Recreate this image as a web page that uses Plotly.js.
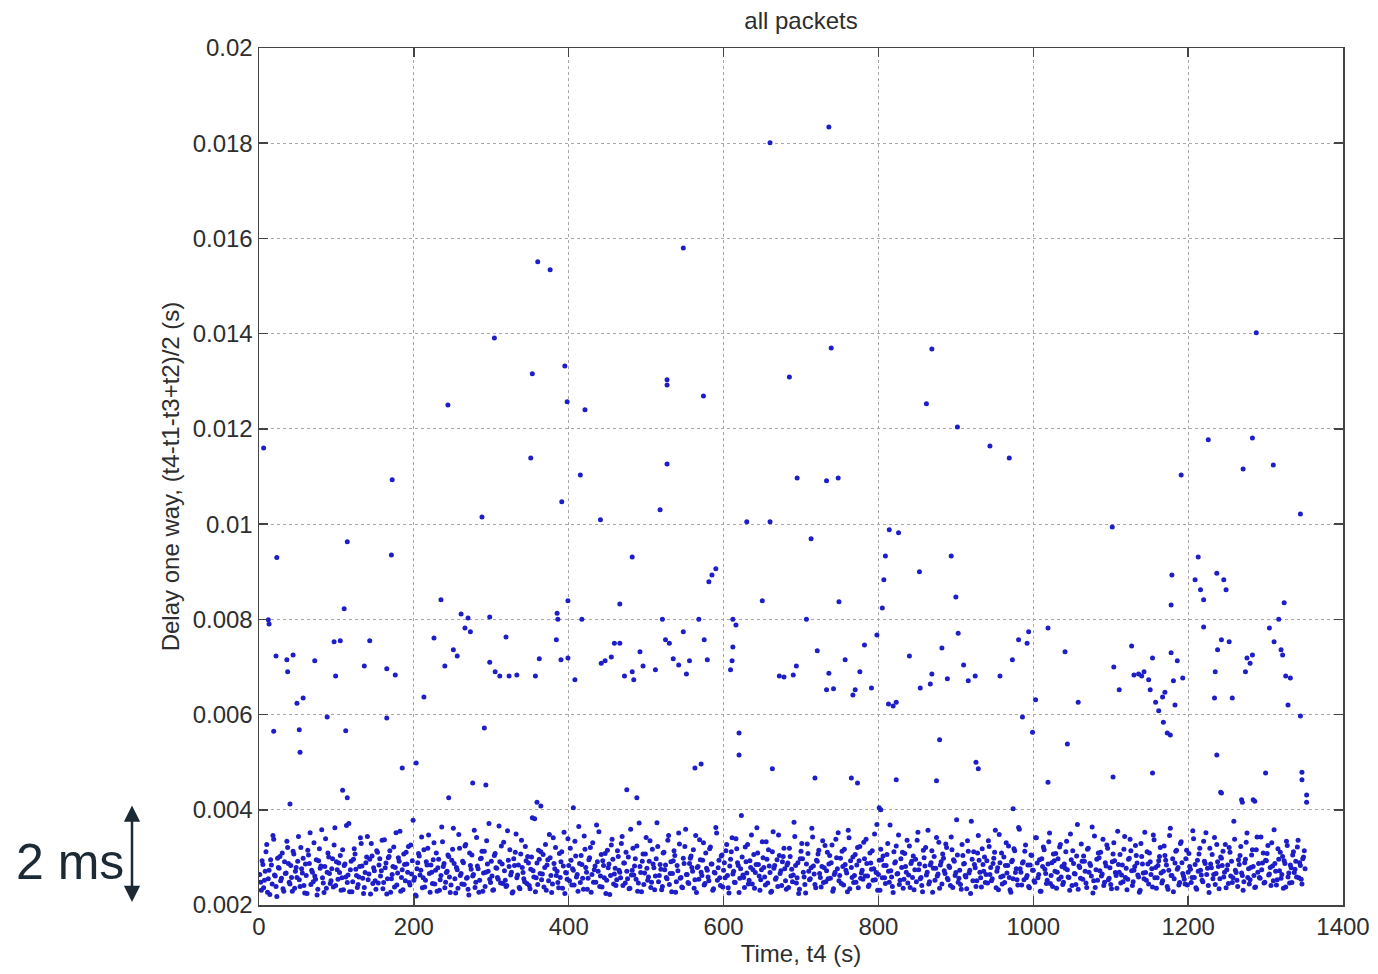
<!DOCTYPE html>
<html>
<head>
<meta charset="utf-8">
<script src="https://cdn.plot.ly/plotly-3.0.1.min.js"></script>
<style>html,body{margin:0;padding:0;background:#fff;}#chart{width:1378px;height:974px;}</style>
</head>
<body>
<div id="chart"></div>
<script>
// Tick labels
const xTickVals = [0, 200, 400, 600, 800, 1000, 1200, 1400];
const xTickText = ["0", "200", "400", "600", "800", "1000", "1200", "1400"];
const yTickVals = [0.002, 0.004, 0.006, 0.008, 0.010, 0.012, 0.014, 0.016, 0.018, 0.020];
const yTickText = ["0.002", "0.004", "0.006", "0.008", "0.01", "0.012", "0.014", "0.016", "0.018", "0.02"];

// Dense band of packets, odd seconds (time in s, delay in ms)
const bandTime = [
1,3,5,7,9,11,13,15,17,19,21,23,25,27,29,31,33,35,37,39,41,43,45,47,49,51,
53,55,57,59,61,63,65,67,69,71,73,75,77,79,81,83,85,87,89,91,93,95,97,99,101,103,
105,107,109,111,113,115,117,119,121,123,125,127,129,131,133,135,137,139,141,143,145,147,149,151,153,155,
157,159,161,163,165,167,169,171,173,175,177,179,181,183,185,187,189,191,193,195,197,199,201,203,205,207,
209,211,213,215,217,219,221,223,225,227,229,231,233,235,237,239,241,243,245,247,249,251,253,255,257,259,
261,263,265,267,269,271,273,275,277,279,281,283,285,287,289,291,293,295,297,299,301,303,305,307,309,311,
313,315,317,319,321,323,325,327,329,331,333,335,337,339,341,343,345,347,349,351,353,355,357,359,361,363,
365,367,369,371,373,375,377,379,381,383,385,387,389,391,393,395,397,399,401,403,405,407,409,411,413,415,
417,419,421,423,425,427,429,431,433,435,437,439,441,443,445,447,449,451,453,455,457,459,461,463,465,467,
469,471,473,475,477,479,481,483,485,487,489,491,493,495,497,499,501,503,505,507,509,511,513,515,517,519,
521,523,525,527,529,531,533,535,537,539,541,543,545,547,549,551,553,555,557,559,561,563,565,567,569,571,
573,575,577,579,581,583,585,587,589,591,593,595,597,599,601,603,605,607,609,611,613,615,617,619,621,623,
625,627,629,631,633,635,637,639,641,643,645,647,649,651,653,655,657,659,661,663,665,667,669,671,673,675,
677,679,681,683,685,687,689,691,693,695,697,699,701,703,705,707,709,711,713,715,717,719,721,723,725,727,
729,731,733,735,737,739,741,743,745,747,749,751,753,755,757,759,761,763,765,767,769,771,773,775,777,779,
781,783,785,787,789,791,793,795,797,799,801,803,805,807,809,811,813,815,817,819,821,823,825,827,829,831,
833,835,837,839,841,843,845,847,849,851,853,855,857,859,861,863,865,867,869,871,873,875,877,879,881,883,
885,887,889,891,893,895,897,899,901,903,905,907,909,911,913,915,917,919,921,923,925,927,929,931,933,935,
937,939,941,943,945,947,949,951,953,955,957,959,961,963,965,967,969,971,973,975,977,979,981,983,985,987,
989,991,993,995,997,999,1001,1003,1005,1007,1009,1011,1013,1015,1017,1019,1021,1023,1025,1027,1029,1031,1033,1035,1037,1039,
1041,1043,1045,1047,1049,1051,1053,1055,1057,1059,1061,1063,1065,1067,1069,1071,1073,1075,1077,1079,1081,1083,1085,1087,1089,1091,
1093,1095,1097,1099,1101,1103,1105,1107,1109,1111,1113,1115,1117,1119,1121,1123,1125,1127,1129,1131,1133,1135,1137,1139,1141,1143,
1145,1147,1149,1151,1153,1155,1157,1159,1161,1163,1165,1167,1169,1171,1173,1175,1177,1179,1181,1183,1185,1187,1189,1191,1193,1195,
1197,1199,1201,1203,1205,1207,1209,1211,1213,1215,1217,1219,1221,1223,1225,1227,1229,1231,1233,1235,1237,1239,1241,1243,1245,1247,
1249,1251,1253,1255,1257,1259,1261,1263,1265,1267,1269,1271,1273,1275,1277,1279,1281,1283,1285,1287,1289,1291,1293,1295,1297,1299,
1301,1303,1305,1307,1309,1311,1313,1315,1317,1319,1321,1323,1325,1327,1329,1331,1333,1335,1337,1339,1341,1343,1345,1347,1349,1351
];
const bandDelayMs = [
2.64,2.31,2.85,2.52,3.12,2.27,2.73,2.95,2.44,3.38,2.61,2.18,2.79,3.02,2.56,2.34,2.91,2.67,3.21,2.48,2.83,2.29,3.07,2.71,2.58,3.44,
2.39,2.76,2.98,2.25,2.62,3.15,2.87,2.43,2.69,3.31,2.54,2.21,2.93,2.77,3.58,2.46,2.81,2.35,3.09,2.66,2.51,2.97,3.26,2.41,2.74,2.88,
3.04,2.57,2.32,2.86,3.67,2.63,2.28,2.92,2.49,3.18,2.75,2.37,2.59,3.41,2.82,2.24,2.68,3.01,2.53,2.96,3.29,2.45,2.72,2.33,3.11,2.84,
2.61,3.36,2.47,2.78,2.23,2.99,3.14,2.55,2.81,2.38,3.52,2.67,2.92,2.29,2.74,3.07,2.51,2.86,3.23,2.42,2.65,3.78,2.58,2.19,2.89,3.03,
2.73,2.36,3.16,2.52,2.84,3.47,2.27,2.69,2.95,2.44,3.09,2.78,2.31,2.62,3.33,2.87,2.48,2.71,3.02,2.26,2.94,3.61,2.55,2.79,2.35,3.19,
2.66,2.92,2.43,3.27,2.58,2.21,2.83,3.05,2.64,2.37,3.42,2.76,2.52,2.98,2.29,3.13,2.69,2.86,3.71,2.47,2.61,2.32,3.08,2.77,2.54,2.91,
3.24,2.45,2.72,2.39,3.56,2.81,2.63,2.25,2.97,3.11,2.57,2.84,2.34,3.36,2.68,2.49,2.93,3.02,2.41,2.75,3.83,2.59,2.28,2.88,3.15,2.66,
2.53,3.06,2.79,2.31,2.95,3.48,2.62,2.44,2.87,3.21,2.71,2.36,2.58,3.12,2.82,2.24,2.67,3.39,2.51,2.94,2.76,2.42,3.03,2.64,3.65,2.47,
2.85,2.33,3.17,2.69,2.56,2.99,2.27,3.31,2.74,2.48,2.91,3.54,2.61,2.38,2.83,3.08,2.52,2.78,2.22,3.26,2.96,2.65,2.41,3.14,2.73,2.57,
3.44,2.88,2.46,2.71,3.01,2.35,2.63,3.19,2.82,2.54,2.29,3.72,2.68,2.92,2.43,3.07,2.77,2.59,3.35,2.48,2.86,2.32,2.97,3.23,2.62,2.75,
2.39,3.11,2.84,2.55,3.46,2.66,2.28,2.93,3.04,2.49,2.72,3.28,2.58,2.36,2.87,3.59,2.64,2.45,2.98,2.79,3.16,2.53,2.26,2.81,3.37,2.69,
2.94,2.42,3.09,2.73,2.51,3.22,2.86,2.34,2.67,3.51,2.78,2.57,3.03,2.38,2.89,3.14,2.62,2.25,2.96,3.41,2.71,2.47,3.18,2.83,2.56,3.88,
2.63,2.37,2.91,3.27,2.52,2.79,2.44,3.06,2.68,3.62,2.85,2.31,2.74,2.99,2.59,3.33,2.46,2.82,2.27,3.12,2.77,2.54,2.95,3.47,2.66,2.41,
3.02,2.76,2.33,2.88,3.19,2.61,2.49,3.74,2.83,2.57,2.24,2.97,3.29,2.69,2.43,2.86,3.08,2.53,2.78,3.43,2.65,2.36,2.92,3.15,2.58,2.81,
2.47,3.25,2.72,2.55,3.04,2.89,2.29,2.64,3.38,2.76,2.51,2.98,3.13,2.42,2.85,2.67,3.57,2.34,2.79,3.01,2.62,2.48,3.21,2.93,2.56,2.73,
3.32,2.61,2.87,2.39,3.09,2.75,2.52,3.49,2.68,2.31,2.94,3.17,2.57,2.83,2.45,3.06,2.71,3.68,2.59,2.26,2.88,3.24,2.66,2.43,2.97,3.11,
2.54,2.81,3.36,2.63,2.37,2.92,3.03,2.74,2.49,3.53,2.86,2.58,2.28,2.99,3.21,2.69,2.44,2.84,3.14,2.77,2.52,3.42,2.65,2.35,2.91,3.07,
2.72,3.28,2.56,2.82,2.41,3.16,2.95,2.62,3.79,2.48,2.73,2.33,3.04,2.87,2.59,3.35,2.67,2.24,2.96,3.12,2.78,2.51,3.46,2.69,2.38,2.85,
3.01,2.64,2.46,3.23,2.79,2.55,2.98,3.57,2.71,2.32,2.89,3.09,2.61,2.47,3.31,2.83,2.58,2.27,2.94,3.18,2.68,2.53,3.63,2.76,2.42,2.91,
3.13,2.57,2.84,2.36,3.05,2.73,2.51,3.41,2.88,2.64,2.29,2.97,3.22,2.75,2.45,2.86,3.51,2.62,2.39,2.93,3.08,2.69,2.54,3.27,2.81,2.48,
2.77,3.34,2.59,2.31,2.95,3.14,2.66,2.43,3.69,2.82,2.56,2.92,3.03,2.71,2.37,3.19,2.87,2.61,2.25,3.45,2.74,2.52,2.99,3.11,2.65,2.41,
2.89,3.26,2.53,2.78,2.34,3.07,2.93,2.62,3.55,2.69,2.46,2.84,3.17,2.58,2.32,2.96,3.38,2.72,2.49,2.81,3.04,2.63,2.27,3.29,2.86,2.55,
2.68,3.12,2.44,2.91,2.76,3.47,2.57,2.35,2.83,3.02,2.67,2.51,3.24,2.94,2.39,2.73,3.61,2.62,2.28,2.88,3.15,2.79,2.47,3.33,2.66,2.54,
2.97,2.42,3.08,2.75,2.58,3.39,2.85,2.33,2.71,3.19,2.63,2.49,2.92,3.52,2.77,2.26,2.86,3.06,2.64,2.43,3.27,2.81,2.55,2.98,3.13,2.69,
2.36,2.84,3.21,2.61,2.47,3.76,2.73,2.52,2.95,3.04,2.67,2.31,2.89,3.32,2.58,2.44,2.79,3.16,2.62,2.38,3.43,2.87,2.56,2.74,3.09,2.48,
2.93,3.25,2.65,2.41,2.82,3.58,2.71,2.53,2.96,3.11,2.64,2.35,2.87,3.34,2.59,2.46,2.78,3.05,2.68,2.92,3.22,2.57,2.83,2.44,3.01,2.76
];

// Dense band of packets, even seconds (time in s, delay in ms)
const bandTimeB = [
2,4,6,8,10,12,14,16,18,20,22,24,26,28,30,32,34,36,38,40,42,44,46,48,50,52,
54,56,58,60,62,64,66,68,70,72,74,76,78,80,82,84,86,88,90,92,94,96,98,100,102,104,
106,108,110,112,114,116,118,120,122,124,126,128,130,132,134,136,138,140,142,144,146,148,150,152,154,156,
158,160,162,164,166,168,170,172,174,176,178,180,182,184,186,188,190,192,194,196,198,200,202,204,206,208,
210,212,214,216,218,220,222,224,226,228,230,232,234,236,238,240,242,244,246,248,250,252,254,256,258,260,
262,264,266,268,270,272,274,276,278,280,282,284,286,288,290,292,294,296,298,300,302,304,306,308,310,312,
314,316,318,320,322,324,326,328,330,332,334,336,338,340,342,344,346,348,350,352,354,356,358,360,362,364,
366,368,370,372,374,376,378,380,382,384,386,388,390,392,394,396,398,400,402,404,406,408,410,412,414,416,
418,420,422,424,426,428,430,432,434,436,438,440,442,444,446,448,450,452,454,456,458,460,462,464,466,468,
470,472,474,476,478,480,482,484,486,488,490,492,494,496,498,500,502,504,506,508,510,512,514,516,518,520,
522,524,526,528,530,532,534,536,538,540,542,544,546,548,550,552,554,556,558,560,562,564,566,568,570,572,
574,576,578,580,582,584,586,588,590,592,594,596,598,600,602,604,606,608,610,612,614,616,618,620,622,624,
626,628,630,632,634,636,638,640,642,644,646,648,650,652,654,656,658,660,662,664,666,668,670,672,674,676,
678,680,682,684,686,688,690,692,694,696,698,700,702,704,706,708,710,712,714,716,718,720,722,724,726,728,
730,732,734,736,738,740,742,744,746,748,750,752,754,756,758,760,762,764,766,768,770,772,774,776,778,780,
782,784,786,788,790,792,794,796,798,800,802,804,806,808,810,812,814,816,818,820,822,824,826,828,830,832,
834,836,838,840,842,844,846,848,850,852,854,856,858,860,862,864,866,868,870,872,874,876,878,880,882,884,
886,888,890,892,894,896,898,900,902,904,906,908,910,912,914,916,918,920,922,924,926,928,930,932,934,936,
938,940,942,944,946,948,950,952,954,956,958,960,962,964,966,968,970,972,974,976,978,980,982,984,986,988,
990,992,994,996,998,1000,1002,1004,1006,1008,1010,1012,1014,1016,1018,1020,1022,1024,1026,1028,1030,1032,1034,1036,1038,1040,
1042,1044,1046,1048,1050,1052,1054,1056,1058,1060,1062,1064,1066,1068,1070,1072,1074,1076,1078,1080,1082,1084,1086,1088,1090,1092,
1094,1096,1098,1100,1102,1104,1106,1108,1110,1112,1114,1116,1118,1120,1122,1124,1126,1128,1130,1132,1134,1136,1138,1140,1142,1144,
1146,1148,1150,1152,1154,1156,1158,1160,1162,1164,1166,1168,1170,1172,1174,1176,1178,1180,1182,1184,1186,1188,1190,1192,1194,1196,
1198,1200,1202,1204,1206,1208,1210,1212,1214,1216,1218,1220,1222,1224,1226,1228,1230,1232,1234,1236,1238,1240,1242,1244,1246,1248,
1250,1252,1254,1256,1258,1260,1262,1264,1266,1268,1270,1272,1274,1276,1278,1280,1282,1284,1286,1288,1290,1292,1294,1296,1298,1300,
1302,1304,1306,1308,1310,1312,1314,1316,1318,1320,1322,1324,1326,1328,1330,1332,1334,1336,1338,1340,1342,1344,1346,1348,1350
];
const bandDelayMsB = [
2.48,2.93,2.36,2.71,3.27,2.55,2.22,2.84,3.46,2.63,2.39,2.98,2.77,2.51,3.09,2.29,2.66,3.34,2.87,2.44,2.58,3.13,2.35,2.79,2.92,2.53,
3.21,2.67,2.41,2.86,2.24,3.05,3.52,2.73,2.49,2.61,2.95,2.33,3.18,2.82,2.57,2.26,3.39,2.69,3.01,2.45,2.76,2.38,3.62,2.91,2.54,2.68,
2.31,3.16,2.83,2.59,2.47,3.71,2.74,2.28,2.96,3.07,2.62,2.43,2.81,3.29,2.56,2.37,2.89,3.44,2.65,2.23,3.03,2.78,2.51,3.14,2.46,2.97,
2.72,2.34,3.37,2.88,2.55,3.02,2.27,2.64,3.22,2.79,2.42,2.99,3.55,2.58,2.32,2.85,3.11,2.69,2.47,3.26,2.93,2.52,2.21,2.76,3.08,2.63,
3.43,2.57,2.38,2.91,3.19,2.66,2.84,2.45,3.31,2.73,2.29,2.96,2.53,3.64,2.81,2.36,2.68,3.05,2.59,2.42,3.17,2.87,2.25,2.74,3.48,2.62,
2.44,2.89,3.24,2.56,2.33,3.09,2.75,2.61,3.57,2.48,2.82,2.27,2.97,3.13,2.67,2.39,3.35,2.71,2.54,2.92,2.31,3.04,2.78,2.58,3.66,2.46,
2.86,3.32,2.52,2.41,2.94,3.16,2.69,2.28,2.83,3.49,2.63,2.37,3.07,2.79,2.55,3.23,2.45,2.88,2.34,3.01,2.72,3.81,2.57,2.43,2.96,3.12,
2.65,2.38,3.27,2.84,2.51,2.99,2.26,3.41,2.76,2.62,2.47,3.08,2.91,2.35,3.53,2.68,2.54,2.83,3.19,2.42,2.73,3.34,2.59,2.29,2.87,3.04,
2.56,3.45,2.79,2.33,2.95,3.21,2.64,2.48,2.82,3.68,2.71,2.39,3.06,2.93,2.57,2.24,3.15,2.86,2.62,3.38,2.44,2.77,2.53,3.02,2.69,3.29,
2.41,2.88,3.11,2.55,2.34,3.59,2.73,2.63,2.97,3.24,2.46,2.81,2.28,3.07,2.67,3.42,2.52,2.92,2.37,3.17,2.78,2.61,3.73,2.49,2.85,2.32,
3.09,2.74,2.58,3.36,2.43,2.91,2.66,3.14,2.27,2.83,3.51,2.56,2.38,2.98,3.23,2.64,2.47,2.87,3.03,2.71,2.35,3.46,2.79,2.54,2.95,2.62,
3.31,2.45,2.77,2.59,3.18,2.86,2.31,2.69,3.63,2.52,2.94,2.41,3.05,2.73,2.57,3.27,2.36,2.82,3.12,2.65,2.48,3.39,2.89,2.26,2.76,3.01,
2.58,3.22,2.67,2.44,2.93,3.47,2.74,2.35,2.85,3.09,2.61,2.53,3.33,2.79,2.42,2.96,3.16,2.68,2.29,3.54,2.83,2.57,2.39,3.04,2.72,2.91,
3.19,2.51,2.84,2.37,3.02,2.75,2.63,3.44,2.46,2.89,2.33,3.13,2.97,2.59,2.25,3.28,2.71,2.55,3.61,2.82,2.43,2.94,3.07,2.66,2.38,3.35,
2.78,2.49,3.11,2.86,2.56,3.26,2.34,2.69,2.99,3.52,2.62,2.45,2.81,3.17,2.73,2.28,3.41,2.93,2.58,2.47,3.06,2.84,2.36,3.23,2.67,2.54,
2.97,3.38,2.61,2.42,2.88,3.14,2.76,2.53,3.69,2.64,2.31,2.95,3.03,2.57,2.83,3.29,2.48,2.72,2.39,3.12,2.91,2.65,3.47,2.52,2.79,2.35,
3.08,2.69,2.46,3.24,2.87,2.58,2.32,2.96,3.36,2.74,2.55,2.41,3.15,2.82,2.63,3.57,2.49,2.89,2.27,3.02,2.77,2.61,3.32,2.84,2.44,2.98,
2.66,3.21,2.53,2.79,3.43,2.37,2.92,2.68,3.05,2.56,2.43,3.27,2.86,2.62,2.34,3.13,2.73,3.76,2.51,2.85,2.39,3.09,2.94,2.57,3.18,2.71,
2.47,2.93,3.35,2.64,2.51,2.87,3.11,2.36,2.78,3.48,2.59,2.44,3.01,2.83,2.67,3.24,2.32,2.91,2.55,3.14,2.76,2.42,3.59,2.69,2.88,2.53,
3.26,2.62,2.39,2.84,3.04,2.73,2.48,3.41,2.57,2.95,2.29,2.81,3.16,2.66,2.52,3.33,2.45,2.89,3.07,2.71,2.35,2.97,3.22,2.59,2.43,2.86,
3.12,2.74,2.58,3.49,2.41,2.87,2.65,3.03,2.33,2.79,3.28,2.54,2.92,2.46,3.17,2.69,2.83,3.64,2.51,2.37,2.96,3.09,2.72,2.61,3.38,2.48,
2.82,3.19,2.56,2.43,2.91,3.31,2.68,2.35,2.85,3.06,2.63,2.49,3.44,2.77,2.54,2.98,3.14,2.41,2.73,3.25,2.88,2.59,2.31,3.02,2.67,3.53,
2.52,2.86,3.09,2.64,2.38,3.37,2.79,2.57,2.93,3.21,2.46,2.71,3.04,2.84,2.33,3.46,2.62,2.97,2.55,3.13,2.75,2.42,3.29,2.89,2.61,2.44,
3.15,2.69,2.81,2.47,3.56,2.58,2.36,2.94,3.07,2.73,2.52,3.34,2.87,2.64,2.41,3.19,2.78,2.55,3.42,2.66,2.91,2.34,3.01,2.83,2.59,3.27,
2.74,2.45,3.11,2.92,2.57,3.38,2.68,2.39,2.85,3.23,2.62,2.49,2.96,3.51,2.76,2.53,3.05,2.81,2.37,3.16,2.69,2.58,3.43,2.88,2.46,2.94,
3.08,2.63,2.79,3.31,2.51,2.87,2.42,3.18,2.72,2.56,3.02,2.93,2.38,3.25,2.67,2.84,2.47,3.12,2.75,2.59,3.36,2.89,2.54,2.97,3.14
];

// Delayed packets above the main band (time in s, delay in ms)
const outlierTime = [
6,12,13,23,22,19,36,44,37,40,
49,57,52,53,72,88,97,105,99,112,
108,114,110,114,136,143,165,171,172,165,
176,185,203,213,226,235,240,244,245,251,
256,261,266,270,273,276,288,291,293,298,
304,298,305,311,319,323,333,351,353,357,
362,359,364,360,376,384,385,386,390,391,
395,398,399,399,406,408,415,417,421,441,
442,447,455,459,466,466,472,475,482,482,
488,484,492,496,512,518,521,527,527,527,
525,530,535,542,548,548,552,556,568,574,
563,571,575,579,581,585,590,612,616,612,
611,609,620,620,630,650,663,660,660,672,
678,685,690,694,695,707,713,718,721,736,
739,733,733,736,748,749,742,757,765,767,
770,773,776,782,791,798,801,803,805,807,
809,814,813,819,823,823,826,840,853,854,
862,867,869,869,875,879,882,889,894,900,
902,903,910,916,925,926,929,944,957,969,
973,974,981,986,992,994,999,1003,1019,1019,
1041,1044,1058,1102,1103,1104,1111,1127,1130,1136,
1140,1143,1149,1151,1154,1154,1158,1162,1168,1173,
1177,1167,1170,1179,1178,1186,1181,1178,1183,1191,
1193,1209,1213,1216,1220,1226,1220,1234,1238,1235,
1237,1237,1242,1243,1246,1249,1253,1257,1271,1269,
1274,1276,1280,1283,1283,1284,1288,1300,1305,1310,
1311,1317,1320,1322,1324,1326,1329,1332,1345,1345,
1347,1353,1353,1347,1243,1270,1286
];
const outlierDelayMs = [
11.6,7.99,7.9,9.3,7.23,5.65,7.15,7.25,6.9,4.12,
6.24,6.35,5.68,5.21,7.13,5.95,7.53,7.55,6.81,5.66,
4.41,4.25,8.22,9.63,7.02,7.55,6.96,9.35,10.93,5.93,
6.83,4.88,4.98,6.37,7.61,8.41,7.02,12.5,4.25,7.36,
7.23,8.11,7.82,8.03,7.74,4.56,10.15,5.72,4.52,8.05,
13.91,7.1,6.9,6.81,7.63,6.81,6.83,11.39,13.16,6.81,
7.17,4.16,4.08,15.51,15.34,7.57,8.13,8.0,7.15,10.47,
13.32,12.57,8.39,7.19,4.04,6.73,11.03,8.0,12.4,10.09,
7.08,7.13,7.21,7.5,8.32,7.5,6.81,4.42,9.31,6.9,
4.25,6.73,7.32,7.02,6.94,10.3,8.0,12.92,13.03,11.26,
7.57,7.5,7.17,7.04,15.8,7.74,6.85,7.13,8.0,12.69,
4.88,4.96,7.57,7.15,8.79,8.93,9.06,8.0,7.88,7.42,
7.13,6.94,5.61,5.15,10.05,8.39,4.86,18.01,10.05,6.81,
6.79,13.09,6.83,7.02,10.97,8.0,9.69,4.67,7.34,18.34,
13.7,10.91,6.52,6.87,10.97,8.37,6.54,7.15,4.67,6.41,
6.52,4.56,6.9,7.46,6.56,7.67,4.04,4.0,8.24,8.83,
9.33,9.88,6.22,6.18,6.26,4.63,9.82,7.23,9.0,6.56,
12.53,6.64,13.68,6.85,4.61,5.47,7.4,6.75,9.33,8.47,
12.04,7.71,7.04,6.71,6.81,5.0,4.86,11.64,6.81,11.39,
7.15,4.02,7.57,5.95,7.5,7.74,5.63,6.31,4.58,7.82,
7.32,5.38,6.26,9.94,4.69,7.0,6.52,7.44,6.83,6.85,
6.81,6.9,6.73,6.52,7.19,4.77,6.26,6.08,5.84,5.61,
5.57,6.37,6.47,8.93,8.3,7.13,6.71,7.3,6.2,11.03,
6.77,8.83,9.31,8.62,8.41,11.77,7.84,6.35,7.36,6.9,
5.15,8.97,4.37,7.57,8.83,8.62,7.53,6.35,11.16,4.21,
6.9,7.19,7.08,11.81,7.25,4.21,14.02,4.77,7.82,11.24,
7.53,8.0,7.36,7.25,8.35,6.81,6.2,6.77,10.21,5.97,
4.79,4.31,4.16,4.63,4.35,4.16,4.18
];

const msToS = v => v / 1000;
const markerStyle = {color: 'rgb(30,30,200)', size: 5, line: {width: 0}};

const traces = [
  {x: bandTime, y: bandDelayMs.map(msToS), type: 'scatter', mode: 'markers', marker: markerStyle},
  {x: bandTimeB, y: bandDelayMsB.map(msToS), type: 'scatter', mode: 'markers', marker: markerStyle},
  {x: outlierTime, y: outlierDelayMs.map(msToS), type: 'scatter', mode: 'markers', marker: markerStyle}
];

const fontFam = '"Liberation Sans", Arial, Helvetica, sans-serif';
const textColor = '#2e2e2e';
const fs = 24;
const W = 1378, H = 974;
const L = 259, R = 35, T = 48, B = 69;
const plotW = W - L - R;

const layout = {
  width: W, height: H,
  margin: {l: L, r: R, t: T, b: B, pad: 0},
  paper_bgcolor: '#ffffff', plot_bgcolor: '#ffffff',
  showlegend: false,
  font: {family: fontFam, size: fs, color: textColor},
  title: {text: 'all packets', font: {family: fontFam, size: fs, color: textColor},
          x: 0.5, xref: 'paper', xanchor: 'center', y: 1 - 21 / H, yref: 'container', yanchor: 'middle'},
  xaxis: {
    range: [0, 1400], tickvals: xTickVals, ticktext: xTickText,
    showgrid: true, gridcolor: '#a8a8a8', griddash: 'dot', gridwidth: 1,
    zeroline: false, showline: true, linecolor: '#444', linewidth: 1.5, mirror: 'ticks',
    ticks: 'inside', ticklen: 9, tickwidth: 1.5, tickcolor: '#444',
    tickfont: {family: fontFam, size: fs, color: textColor},
    title: {text: 'Time, t4 (s)', font: {family: fontFam, size: fs, color: textColor}, standoff: 6}
  },
  yaxis: {
    range: [0.002, 0.02], tickvals: yTickVals, ticktext: yTickText,
    showgrid: true, gridcolor: '#a8a8a8', griddash: 'dot', gridwidth: 1,
    zeroline: false, showline: true, linecolor: '#444', linewidth: 1.5, mirror: 'ticks',
    ticks: 'inside', ticklen: 9, tickwidth: 1.5, tickcolor: '#444',
    tickfont: {family: fontFam, size: fs, color: textColor},
    title: {text: 'Delay one way, (t4-t1-t3+t2)/2 (s)', font: {family: fontFam, size: fs, color: textColor}, standoff: 6}
  },
  annotations: [
    {xref: 'paper', yref: 'y', x: (70 - L) / plotW, y: 0.0029, text: '2 ms', showarrow: false,
     xanchor: 'center', yanchor: 'middle', font: {family: fontFam, size: 50, color: '#1c2a36'}},
    {xref: 'paper', yref: 'y', x: (132 - L) / plotW, y: 0.00409, text: '', showarrow: true,
     axref: 'pixel', ayref: 'pixel', ax: 0, ay: 98, arrowside: 'end+start', arrowhead: 2, startarrowhead: 2,
     arrowsize: 1.3, startarrowsize: 1.3, arrowwidth: 2.5, arrowcolor: '#1c2a36', standoff: 0, startstandoff: 0}
  ]
};

Plotly.newPlot('chart', traces, layout, {displayModeBar: false, staticPlot: true});
</script>
</body>
</html>
